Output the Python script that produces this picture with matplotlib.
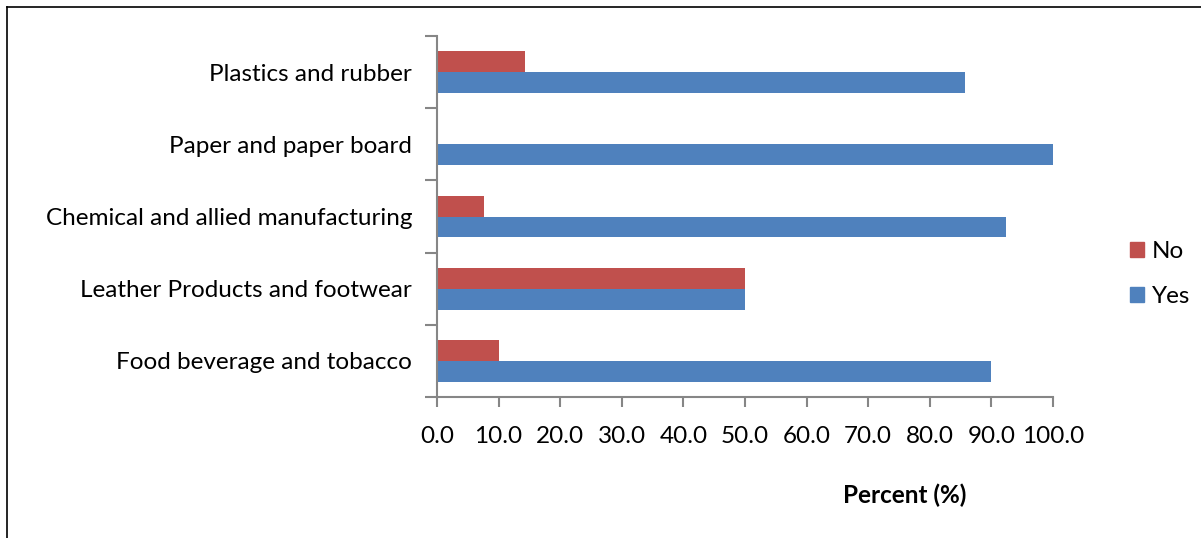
import matplotlib
matplotlib.use("Agg")
import matplotlib.pyplot as plt
from matplotlib.lines import Line2D
from matplotlib.patches import Patch
import numpy as np

# sectors, bottom to top
sectors = [
    "Food beverage and tobacco",
    "Leather Products and footwear",
    "Chemical and allied manufacturing",
    "Paper and paper board",
    "Plastics and rubber",
]
yes_pct = [90.0, 50.0, 92.3, 100.0, 85.7]
no_pct = [10.0, 50.0, 7.7, 0.0, 14.3]
x_ticks = [0, 10, 20, 30, 40, 50, 60, 70, 80, 90, 100]

RED = "#C0504D"
BLUE = "#4F81BD"
AXIS = "#868686"
FONT = "Lato"
FS = 17.5

W, H = 1201, 538
fig = plt.figure(figsize=(W / 100, H / 100), dpi=100)
ax = fig.add_axes([437 / W, 1 - 397 / H, 616 / W, 361 / H])

y = np.arange(len(sectors))
bh = 0.29
ax.barh(y + bh / 2, no_pct, height=bh, color=RED, label="No")
ax.barh(y - bh / 2, yes_pct, height=bh, color=BLUE, label="Yes")

ax.set_xlim(0, 100)
ax.set_ylim(-0.5, len(sectors) - 0.5)

ax.set_xticks(x_ticks)
ax.set_xticklabels([f"{v:.1f}" for v in x_ticks], fontsize=FS, family=FONT)
ax.tick_params(axis="x", direction="out", length=7, width=1.5, color=AXIS, pad=14)

# category labels on major ticks (hidden), separators on minor ticks
ax.set_yticks(y)
ax.set_yticklabels(sectors, fontsize=FS, family=FONT)
ax.tick_params(axis="y", which="major", length=0, pad=18)
ax.set_yticks(np.arange(-0.5, len(sectors)), minor=True)
ax.tick_params(axis="y", which="minor", direction="out", length=9, width=1.5, color=AXIS)

for side in ("top", "right"):
    ax.spines[side].set_visible(False)
for side in ("left", "bottom"):
    ax.spines[side].set_color(AXIS)
    ax.spines[side].set_linewidth(1.5)

fig.text(905 / W, 1 - 495 / H, "Percent (%)", ha="center", va="center",
         fontsize=FS, fontweight="bold", family=FONT)

handles = [Patch(color=RED, label="No"), Patch(color=BLUE, label="Yes")]
fig.legend(handles=handles, loc="center left", bbox_to_anchor=(1108 / W, 1 - 274 / H),
           frameon=False, prop={"family": FONT, "size": FS},
           handlelength=0.6, handleheight=0.6, handletextpad=0.3, labelspacing=1.0)

# outer frame: left and top edges
fig.add_artist(Line2D([6.5 / W, 6.5 / W], [0, 1 - 6.5 / H], color="black", lw=1.2,
                      transform=fig.transFigure))
fig.add_artist(Line2D([6.5 / W, 1], [1 - 6.5 / H, 1 - 6.5 / H], color="black", lw=1.2,
                      transform=fig.transFigure))

fig.savefig("out.png", dpi=100)
